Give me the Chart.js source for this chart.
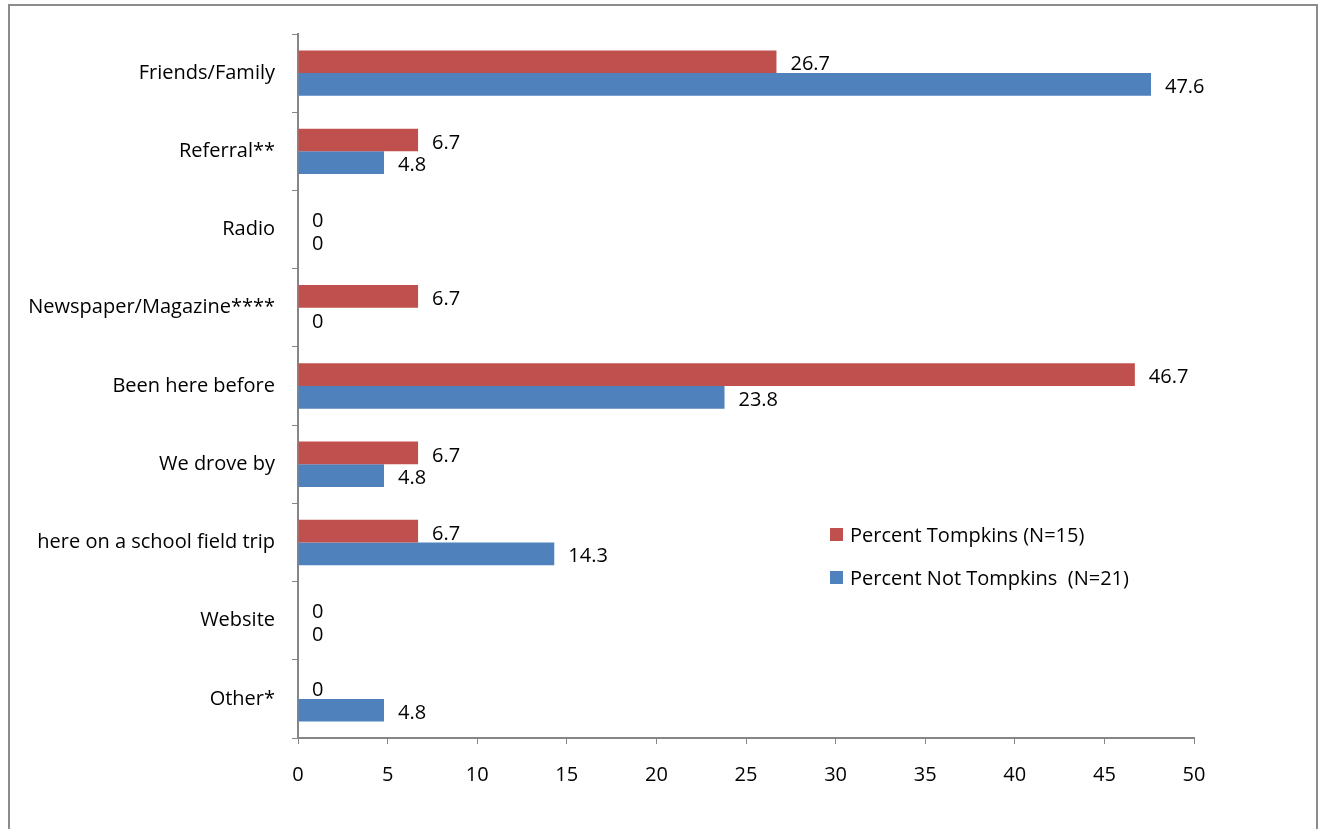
<!DOCTYPE html>
<html>
<head>
<meta charset="utf-8">
<script src="https://cdn.jsdelivr.net/npm/chart.js@4/dist/chart.umd.min.js"></script>
<style>
html,body{margin:0;padding:0;background:#fff;}
#wrap{width:1320px;height:829px;position:relative;}
</style>
</head>
<body>
<div id="wrap"><canvas id="c" width="1320" height="829"></canvas></div>
<script>
const categories = ["Friends/Family","Referral**","Radio","Newspaper/Magazine****","Been here before","We drove by","here on a school field trip","Website","Other*"];
const tompkins = [26.7, 6.7, 0, 6.7, 46.7, 6.7, 6.7, 0, 0];
const notTompkins = [47.6, 4.8, 0, 0, 23.8, 4.8, 14.3, 0, 4.8];
const seriesNames = ["Percent Tompkins (N=15)", "Percent Not Tompkins  (N=21)"];
const xTicks = [0,5,10,15,20,25,30,35,40,45,50];

const FONT = "'Open Sans', Lato, sans-serif";
const FS = 20;
const RED = "#C0504D", BLUE = "#4F81BD";

const framePlugin = {
  id:'frame',
  beforeDraw(chart){
    const ctx = chart.ctx;
    ctx.save();
    ctx.fillStyle = '#fff';
    ctx.fillRect(0,0,chart.width,chart.height);
    ctx.strokeStyle = '#8c8c8c';
    ctx.lineWidth = 2;
    ctx.strokeRect(9, 5, 1308, 840);
    ctx.restore();
  }
};

const labelPlugin = {
  id:'vlabels',
  afterDatasetsDraw(chart){
    const ctx = chart.ctx;
    ctx.save();
    ctx.font = FS + "px " + FONT;
    ctx.fillStyle = '#000';
    ctx.textAlign = 'left';
    ctx.textBaseline = 'middle';
    chart.data.datasets.forEach((ds, di) => {
      const meta = chart.getDatasetMeta(di);
      meta.data.forEach((bar, i) => {
        const v = ds.data[i];
        ctx.fillText(String(v), bar.x + 14, bar.y + 3);
      });
    });
    ctx.restore();
  }
};

const legendPlugin = {
  id:'customLegend',
  afterDraw(chart){
    const ctx = chart.ctx;
    ctx.save();
    ctx.font = FS + "px " + FONT;
    ctx.textBaseline = 'middle';
    ctx.textAlign = 'left';
    const rows = [535, 578];
    chart.data.datasets.forEach((ds, i) => {
      ctx.fillStyle = ds.backgroundColor;
      ctx.fillRect(830, rows[i]-7, 13, 13);
      ctx.fillStyle = '#000';
      ctx.fillText(ds.label, 850, rows[i]+1);
    });
    ctx.restore();
  }
};

new Chart(document.getElementById('c'), {
  type:'bar',
  data:{
    labels: categories,
    datasets:[
      {label: seriesNames[0], data: tompkins, backgroundColor: RED, borderColor: RED, borderWidth:0},
      {label: seriesNames[1], data: notTompkins, backgroundColor: BLUE, borderColor: BLUE, borderWidth:0}
    ]
  },
  options:{
    indexAxis:'y',
    responsive:false,
    animation:false,
    devicePixelRatio:1,
    layout:{padding:{top:34, right:126, bottom:0, left:0}},
    datasets:{bar:{categoryPercentage:0.58, barPercentage:1.0}},
    plugins:{legend:{display:false}, tooltip:{enabled:false}},
    scales:{
      x:{
        min:0, max:50,
        afterBuildTicks(axis){ axis.ticks = xTicks.map(v=>({value:v})); },
        afterFit(axis){ axis.height = 91; },
        grid:{drawOnChartArea:false, drawTicks:true, tickLength:6, color:'#868686', lineWidth:1},
        border:{color:'#868686', width:2},
        ticks:{color:'#000', font:{family:FONT, size:FS}, padding:19, maxRotation:0}
      },
      y:{
        afterFit(axis){ axis.width = 298; },
        grid:{drawOnChartArea:false, drawTicks:true, tickLength:6, color:'#868686', offset:true},
        border:{color:'#868686', width:2},
        ticks:{color:'#000', font:{family:FONT, size:FS}, padding:17, autoSkip:false}
      }
    }
  },
  plugins:[framePlugin, labelPlugin, legendPlugin]
});
</script>
</body>
</html>
